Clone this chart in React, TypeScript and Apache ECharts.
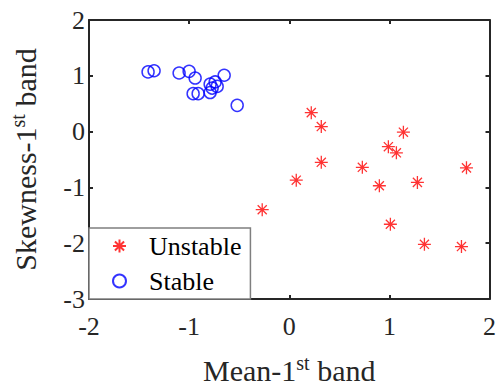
import React, { useEffect, useRef } from "react";
import * as echarts from "echarts";

const unstableX = [0.22, 0.32, 1.14, 0.99, 1.07, 0.32, 0.73, 1.77, 0.07, 0.9, 1.28, -0.27, 1.01, 1.35, 1.72];
const unstableY = [0.34, 0.09, -0.01, -0.27, -0.38, -0.55, -0.64, -0.65, -0.87, -0.97, -0.91, -1.4, -1.66, -2.02, -2.06];

const stableX = [-1.41, -1.35, -1.1, -1.0, -0.94, -0.65, -0.52, -0.96, -0.91, -0.79, -0.74, -0.72, -0.79, -0.77];
const stableY = [1.07, 1.09, 1.05, 1.08, 0.96, 1.01, 0.47, 0.68, 0.68, 0.85, 0.89, 0.81, 0.7, 0.78];

const xTicks = { min: -2, max: 2, interval: 1 };
const yTicks = { min: -3, max: 2, interval: 1 };

const ASTERISK = "path://M0,-10L0,10M-10,0L10,0M-7,-7L7,7M-7,7L7,-7";
const FONT = "'Liberation Serif', serif";
const DARK = "#262626";

export default function App() {
  const ref = useRef<HTMLDivElement>(null);
  useEffect(() => {
    if (!ref.current) return;
    const chart = echarts.init(ref.current, undefined, { renderer: "svg" });
    const axisCommon = {
      axisLine: { show: true, onZero: false, lineStyle: { color: DARK, width: 2 } },
      axisTick: { show: true, inside: true, length: 4, lineStyle: { color: DARK, width: 2 } },
      splitLine: { show: false },
    };
    const sup = { fontFamily: FONT, fontSize: 20, color: DARK, verticalAlign: "top", padding: [0, 0, 14, 0] };
    chart.setOption({
      animation: false,
      backgroundColor: "#fff",
      textStyle: { fontFamily: FONT },
      grid: { left: 86, right: 6, top: 20, bottom: 87, containLabel: false },
      legend: {
        orient: "vertical",
        left: 89,
        top: 228,
        padding: [5, 9, 5, 23],
        itemGap: 9,
        itemWidth: 13,
        itemHeight: 13,
        backgroundColor: "#fff",
        borderColor: "#7f7f7f",
        borderWidth: 1.5,
        textStyle: { fontFamily: FONT, fontSize: 26, color: "#000", padding: [0, 0, 0, 18] },
        data: ["Unstable", "Stable"],
      },
      xAxis: [
        {
          type: "value",
          ...xTicks,
          position: "bottom",
          ...axisCommon,
          axisLabel: { fontFamily: FONT, fontSize: 26, color: DARK, margin: 14 },
          name: "Mean-1{sup|st} band",
          nameLocation: "middle",
          nameGap: 54,
          nameTextStyle: { fontFamily: FONT, fontSize: 30, color: DARK, rich: { sup } },
        },
        {
          type: "value",
          ...xTicks,
          position: "top",
          ...axisCommon,
          axisLabel: { show: false },
        },
      ],
      yAxis: [
        {
          type: "value",
          ...yTicks,
          position: "left",
          ...axisCommon,
          axisLabel: { fontFamily: FONT, fontSize: 26, color: DARK, margin: 4 },
          name: "Skewness-1{sup|st} band",
          nameLocation: "middle",
          nameGap: 47,
          nameTextStyle: { fontFamily: FONT, fontSize: 30, color: DARK, rich: { sup } },
        },
        {
          type: "value",
          ...yTicks,
          position: "right",
          ...axisCommon,
          axisLabel: { show: false },
        },
      ],
      series: [
        {
          name: "Unstable",
          type: "scatter",
          symbol: ASTERISK,
          symbolSize: 13,
          itemStyle: { color: "#ff0000", borderColor: "#ff0000", borderWidth: 1.3 },
          data: unstableX.map((x, i) => [x, unstableY[i]]),
        },
        {
          name: "Stable",
          type: "scatter",
          symbol: "circle",
          symbolSize: 12,
          itemStyle: { color: "rgba(0,0,0,0)", borderColor: "#0000ff", borderWidth: 1.5 },
          data: stableX.map((x, i) => [x, stableY[i]]),
        },
      ],
    });
    return () => chart.dispose();
  }, []);
  return <div ref={ref} style={{ width: 499, height: 390, position: "absolute", left: 0, top: 0 }} />;
}
